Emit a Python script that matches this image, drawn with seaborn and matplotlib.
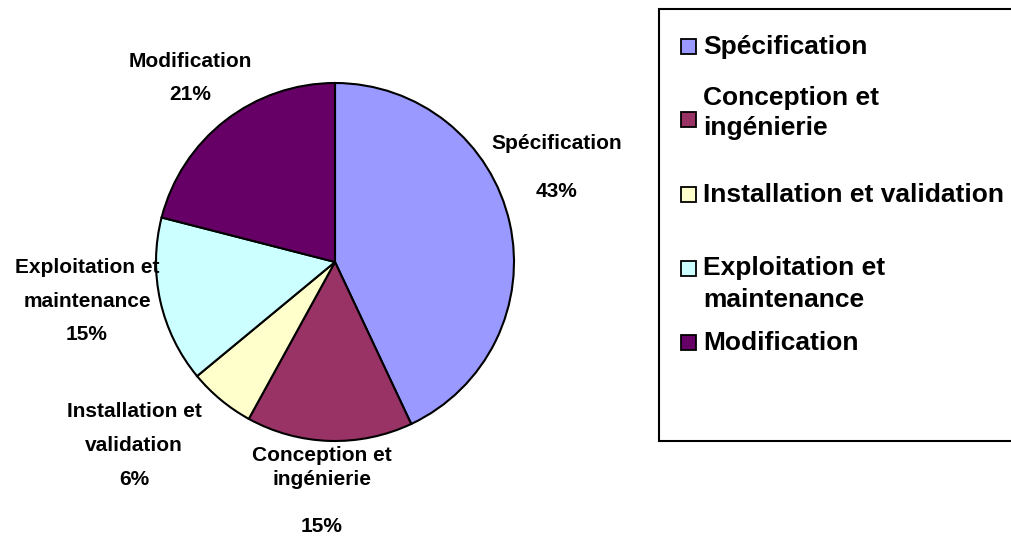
import matplotlib
matplotlib.use("Agg")
import matplotlib.pyplot as plt
import seaborn as sns
from matplotlib.patches import Rectangle

# ---- data ----
categories = ["Spécification", "Conception et ingénierie", "Installation et validation",
              "Exploitation et maintenance", "Modification"]
values = [43, 15, 6, 15, 21]
colors = ["#9999FF", "#993366", "#FFFFCC", "#CCFFFF", "#660066"]

# how category names are broken into lines
slice_name_lines = [["Spécification"], ["Conception et", "ingénierie"], ["Installation et", "validation"],
                    ["Exploitation et", "maintenance"], ["Modification"]]
legend_name_lines = [["Spécification"], ["Conception et", "ingénierie"], ["Installation et validation"],
                     ["Exploitation et", "maintenance"], ["Modification"]]

# ---- layout (pixels) ----
W, H = 1011, 536
label_x = [557, 322, 134, 87, 190]
label_baselines = [[149, 197], [461, 485, 532], [417, 451, 485], [273, 307, 340], [67, 100]]
legend_baselines = [[54], [105, 135], [202], [275, 307], [350]]
legend_marker_top = [39, 112, 187, 261, 335]

sns.set_theme(style="white")
plt.rcParams['font.family'] = ['Liberation Sans', 'DejaVu Sans']

fig = plt.figure(figsize=(W / 100, H / 100), dpi=100)
fig.patch.set_facecolor("white")

cx, cy, r = 335, 262, 179
lim = 1.1
half = r * lim
ax = fig.add_axes([(cx - half) / W, (H - cy - half) / H, 2 * half / W, 2 * half / H])
ax.pie(values, colors=colors, startangle=90, counterclock=False, radius=1,
       wedgeprops=dict(edgecolor="black", linewidth=1.5))
ax.set_xlim(-lim, lim)
ax.set_ylim(-lim, lim)
ax.set_aspect("equal")
ax.axis("off")


def fx(x):
    return x / W


def fy(y):
    return 1 - y / H


# slice labels
for i, v in enumerate(values):
    lines = slice_name_lines[i] + [f"{v}%"]
    for txt, yb in zip(lines, label_baselines[i]):
        fig.text(fx(label_x[i]), fy(yb), txt, ha="center", va="baseline",
                 fontsize=15, fontweight="bold", color="black")

# legend box
fig.patches.append(Rectangle((fx(659), fy(441)), 1.2, (441 - 9) / H, transform=fig.transFigure,
                             facecolor="white", edgecolor="black", linewidth=1.5, zorder=0))

for i, c in enumerate(colors):
    top = legend_marker_top[i]
    fig.patches.append(Rectangle((fx(681), fy(top + 15)), 15 / W, 15 / H, transform=fig.transFigure,
                                 facecolor=c, edgecolor="black", linewidth=1.3, zorder=2))
    for txt, yb in zip(legend_name_lines[i], legend_baselines[i]):
        fig.text(fx(703), fy(yb), txt, ha="left", va="baseline",
                 fontsize=19, fontweight="bold", color="black", zorder=3)

fig.savefig("out.png", dpi=100, facecolor="white")
